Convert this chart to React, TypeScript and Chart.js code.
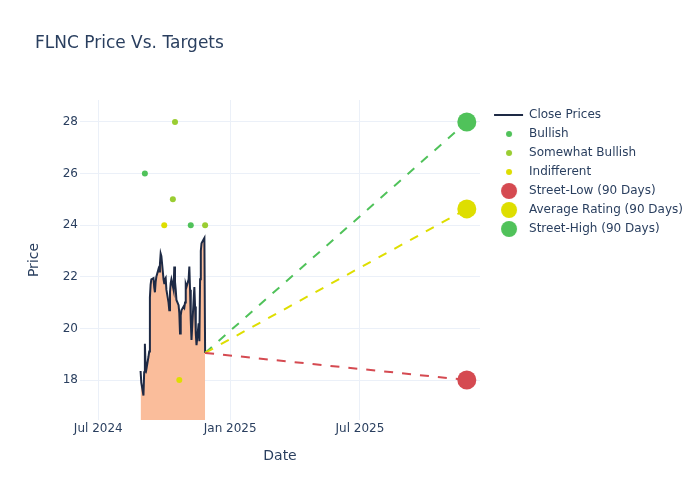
import React, { useEffect, useRef } from 'react';
import { Chart, registerables } from 'chart.js';

Chart.register(...registerables);

// ---------- data ----------
const chartTitle = 'FLNC Price Vs. Targets';
const closeStartDate = '2024-08-29';
const closePrices = [
  18.35, 17.9, 17.4, 18.3, 19.4, 18.5, 18.4, 18.9, 19.1, 21.2,
  21.7, 21.9, 21.95, 21.6, 21.4, 21.8, 22.0, 22.3, 22.2, 22.5,
  22.9, 22.8, 21.9, 21.75, 21.9, 21.95, 21.5, 21.0, 20.7, 21.4,
  21.75, 21.9, 21.5, 22.4, 21.8, 21.5, 21.1, 20.9, 20.6, 19.8,
  20.5, 20.7, 20.85, 20.8, 21.0, 21.7, 21.6, 21.9, 22.4, 21.5,
  20.3, 19.55, 21.1, 21.6, 20.85, 19.8, 19.35, 20.2, 19.5, 21.9,
  23.0, 23.3, 23.45, 23.5, 19.05,
];
const bullishDates = ['2024-09-04', '2024-11-07'];
const bullishPrices = [26, 24];
const somewhatBullishDates = ['2024-10-13', '2024-10-16', '2024-11-27'];
const somewhatBullishPrices = [25, 28, 24];
const indifferentDates = ['2024-10-01', '2024-10-22'];
const indifferentPrices = [24, 18];
const targetDate = '2025-11-27';
const streetLow = 18;
const averageRating = 24.63;
const streetHigh = 28;
const xTickDates = ['2024-07-01', '2025-01-01', '2025-07-01'];
const xTickLabels = ['Jul 2024', 'Jan 2025', 'Jul 2025'];
const yTicks = [18, 20, 22, 24, 26, 28];
const xRange = ['2024-06-05T12:00:00Z', '2025-12-15T10:00:00Z'];
const yRange = [16.45, 28.85];

// ---------- styles ----------
const TEXT = '#2a3f5f';
const GRID = '#ebf0f8';
const FONT = 'DejaVu Sans';
const C_CLOSE = '#1e2a45';
const C_FILL = '#fabd9b';
const C_BULL = '#50c25a';
const C_SB = '#9acd32';
const C_IND = '#dede00';
const C_LOW = '#d54a51';
const C_AVG = '#dede00';
const C_HIGH = '#50c25a';

const ts = (d: string) => Date.parse(d.length === 10 ? d + 'T00:00:00Z' : d);

function tradingDays(start: string, n: number): number[] {
  const out: number[] = [];
  let t = ts(start);
  while (out.length < n) {
    const wd = new Date(t).getUTCDay();
    if (wd !== 0 && wd !== 6) out.push(t);
    t += 86400000;
  }
  return out;
}

function circleIcon(color: string, r: number): HTMLCanvasElement {
  const c = document.createElement('canvas');
  c.width = 40;
  c.height = 20;
  const ctx = c.getContext('2d')!;
  ctx.fillStyle = color;
  ctx.beginPath();
  ctx.arc(24, 10, r, 0, Math.PI * 2);
  ctx.fill();
  return c;
}

function lineIcon(color: string): HTMLCanvasElement {
  const c = document.createElement('canvas');
  c.width = 40;
  c.height = 20;
  const ctx = c.getContext('2d')!;
  ctx.strokeStyle = color;
  ctx.lineWidth = 2;
  ctx.beginPath();
  ctx.moveTo(9, 10);
  ctx.lineTo(38, 10);
  ctx.stroke();
  return c;
}

const titleShift = {
  id: 'titleShift',
  afterLayout(chart: any) {
    const t = chart.titleBlock;
    if (t) {
      t.left = 35;
    }
  },
};

export default function App() {
  const ref = useRef<HTMLCanvasElement | null>(null);

  useEffect(() => {
    if (!ref.current) return;
    const closeDates = tradingDays(closeStartDate, closePrices.length);
    const closeData = closePrices.map((y, i) => ({ x: closeDates[i], y }));
    const lastX = closeDates[closeDates.length - 1];
    const lastY = closePrices[closePrices.length - 1];
    const tX = ts(targetDate);
    const pts = (ds: string[], vs: number[]) => ds.map((d, i) => ({ x: ts(d), y: vs[i] }));

    const icons = [
      lineIcon(C_CLOSE),
      circleIcon(C_BULL, 3),
      circleIcon(C_SB, 3),
      circleIcon(C_IND, 3),
      circleIcon(C_LOW, 8),
      circleIcon(C_AVG, 8),
      circleIcon(C_HIGH, 8),
    ];

    const dots = (label: string, data: any[], color: string, r: number, order: number) => ({
      label,
      data,
      showLine: false,
      pointRadius: r,
      pointHoverRadius: r,
      pointBackgroundColor: color,
      pointBorderWidth: 0,
      borderColor: color,
      backgroundColor: color,
      order,
    });

    const dashed = (label: string, target: number, color: string) => ({
      label,
      data: [
        { x: lastX, y: lastY },
        { x: tX, y: target },
      ],
      borderColor: color,
      borderWidth: 2,
      borderDash: [9, 9],
      pointRadius: 0,
      fill: false,
      order: 5,
    });

    const chart = new Chart(ref.current, {
      type: 'line',
      data: {
        datasets: [
          {
            label: 'Close Prices',
            data: closeData,
            borderColor: C_CLOSE,
            borderWidth: 2,
            pointRadius: 0,
            fill: 'start',
            backgroundColor: C_FILL,
            tension: 0,
            order: 10,
          } as any,
          dots('Bullish', pts(bullishDates, bullishPrices), C_BULL, 3, 1),
          dots('Somewhat Bullish', pts(somewhatBullishDates, somewhatBullishPrices), C_SB, 3, 1),
          dots('Indifferent', pts(indifferentDates, indifferentPrices), C_IND, 3, 1),
          dots('Street-Low (90 Days)', [{ x: tX, y: streetLow }], C_LOW, 9.5, 0),
          dots('Average Rating (90 Days)', [{ x: tX, y: averageRating }], C_AVG, 9.5, 0),
          dots('Street-High (90 Days)', [{ x: tX, y: streetHigh }], C_HIGH, 9.5, 0),
          dashed('low-line', streetLow, C_LOW),
          dashed('avg-line', averageRating, C_AVG),
          dashed('high-line', streetHigh, C_HIGH),
        ],
      },
      options: {
        animation: false,
        responsive: false,
        events: [],
        layout: { padding: { left: 20, right: 7, top: 0, bottom: 0 } },
        scales: {
          x: {
            type: 'linear',
            min: ts(xRange[0]),
            max: ts(xRange[1]),
            afterBuildTicks: (s: any) => {
              s.ticks = xTickDates.map((d) => ({ value: ts(d) }));
            },
            afterFit: (s: any) => {
              s.height = 80;
            },
            ticks: {
              autoSkip: false,
              maxRotation: 0,
              padding: 2,
              color: TEXT,
              font: { family: FONT, size: 12 },
              callback: (_v: any, i: number) => xTickLabels[i],
            },
            grid: { color: GRID, lineWidth: 1, drawTicks: false },
            border: { display: false },
            title: {
              display: true,
              text: 'Date',
              color: TEXT,
              font: { family: FONT, size: 14 },
              padding: { top: 0, bottom: 35.6 },
            },
          },
          y: {
            type: 'linear',
            min: yRange[0],
            max: yRange[1],
            afterBuildTicks: (s: any) => {
              s.ticks = yTicks.map((v) => ({ value: v }));
            },
            afterFit: (s: any) => {
              s.width = 60;
            },
            ticks: {
              padding: 2,
              color: TEXT,
              font: { family: FONT, size: 12 },
              callback: (v: any) => String(v),
            },
            grid: { color: GRID, lineWidth: 1, drawTicks: false },
            border: { display: false },
            title: {
              display: true,
              text: 'Price',
              color: TEXT,
              font: { family: FONT, size: 14 },
              padding: { top: 5.6, bottom: 0 },
            },
          },
        },
        plugins: {
          title: {
            display: true,
            text: chartTitle,
            align: 'start',
            color: TEXT,
            font: { family: FONT, size: 17, weight: 'normal' },
            padding: { top: 33.8, bottom: 45.8 },
          },
          legend: {
            display: true,
            position: 'right',
            align: 'start',
            fullSize: false,
            maxWidth: 220,
            title: {
              display: true,
              text: '',
              font: { family: FONT, size: 1, lineHeight: 1 },
              padding: { top: 1, bottom: 0 },
            },
            labels: {
              usePointStyle: true,
              pointStyleWidth: 36,
              boxWidth: 36,
              boxHeight: 12,
              padding: 7,
              color: TEXT,
              font: { family: FONT, size: 12 },
              generateLabels: (ch: any) =>
                ch.data.datasets.slice(0, 7).map((ds: any, i: number) => ({
                  text: ds.label,
                  pointStyle: icons[i],
                  fillStyle: 'rgba(0,0,0,0)',
                  strokeStyle: 'rgba(0,0,0,0)',
                  lineWidth: 0,
                  hidden: false,
                  datasetIndex: i,
                  fontColor: TEXT,
                })),
            },
          },
          tooltip: { enabled: false },
        },
      } as any,
      plugins: [titleShift],
    });
    return () => chart.destroy();
  }, []);

  return (
    <div style={{ position: 'fixed', left: 0, top: 0, width: 700, height: 500, background: '#fff' }}>
      <canvas ref={ref} width={700} height={500} style={{ display: 'block' }} />
    </div>
  );
}
